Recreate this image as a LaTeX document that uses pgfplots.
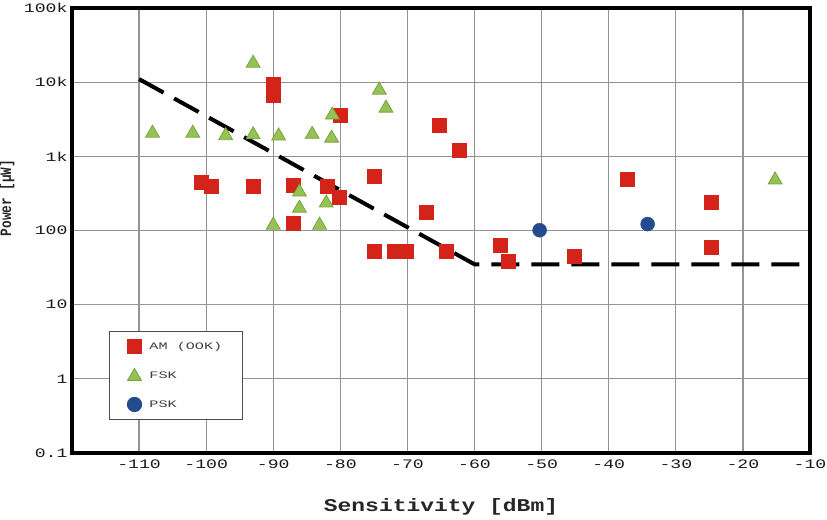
\documentclass[border=0pt]{standalone}
\usepackage{pgfplots}
\pgfplotsset{compat=1.18}
\usepackage{fontspec}
\setmainfont{Liberation Mono}
\newfontfamily\tickfont[FakeStretch=1.4]{Liberation Mono}
\newfontfamily\xlabfont[FakeStretch=1.28]{Liberation Mono}
\newfontfamily\ylabfont{Liberation Mono}
\newfontfamily\legfont[FakeStretch=1.52]{Liberation Mono}
\definecolor{amred}{RGB}{212,36,26}
\definecolor{fskgreen}{RGB}{148,194,84}
\definecolor{fskedge}{RGB}{118,164,58}
\definecolor{pskblue}{RGB}{36,76,140}
\begin{document}
\begin{tikzpicture}
\begin{axis}[
  scale only axis, width=738bp, height=445bp,
  xmin=-120, xmax=-10, ymode=log, ymin=0.1, ymax=100000,
  xtick={-110,-100,-90,-80,-70,-60,-50,-40,-30,-20,-10},
  xticklabels={-110,-100,-90,-80,-70,-60,-50,-40,-30,-20,-10},
  ytick={0.1,1,10,100,1000,10000,100000},
  yticklabels={0.1,1,10,100,1k,10k,100k},
  grid=major, major grid style={black!42, line width=1.3bp},
  minor tick num=0, tick style={draw=none},
  major tick length=0pt, minor tick length=0pt,
  axis line style={line width=3.5bp},
  tick label style={font=\tickfont\fontsize{13}{13}\selectfont, text=black!90},
  xticklabel style={yshift=-3bp},
  yticklabel style={xshift=-1bp},
  xlabel={\xlabfont\bfseries\fontsize{18}{18}\selectfont Sensitivity [dBm]},
  xlabel style={at={(axis description cs:0.5,0)}, anchor=base, yshift=-58bp, text=black!85},
  ylabel={\scalebox{1}[1.25]{\ylabfont\bfseries\fontsize{12.8}{13}\selectfont Power [μW]}},
  ylabel style={at={(axis description cs:-0.0881,0.573)}, anchor=center, text=black!85},
  legend style={at={(axis description cs:0.05,0.074)}, anchor=south west,
    font=\legfont\fontsize{10}{10}\selectfont, draw=black!70, line width=1.2bp,
    inner xsep=18bp, inner ysep=8bp, row sep=15bp, text=black!75},
  legend cell align=left,
]
\addplot[only marks, mark=square*, mark size=7bp, color=amred] coordinates {
  (-100.8,450) (-99.2,390) (-93,390) (-90,9400) (-90,6600) (-87,408) (-87,124)
  (-82,400) (-80.2,280) (-80,3600) (-75,540) (-75,53) (-72,53) (-70.2,53)
  (-67.2,177) (-65.3,2640) (-64.3,53) (-62.3,1210) (-56.2,63) (-55,38.5)
  (-45.1,45) (-37.2,490) (-24.8,243) (-24.8,60)
};
\addlegendentry{\hspace{6bp}AM (OOK)}
\addplot[only marks, mark=triangle*, mark size=8bp, mark options={fill=fskgreen, draw=fskedge, line width=0.8bp}] coordinates {
  (-108,2050) (-102,2050) (-97.1,1900) (-93,18000) (-93,1950) (-89.2,1880)
  (-90,118) (-84.2,1980) (-86.1,330) (-86.1,200) (-83.1,118) (-82.1,235)
  (-81.2,3600) (-81.3,1760) (-74.2,7800) (-73.2,4470) (-15.2,480)
};
\addlegendentry{\hspace{6bp}FSK}
\addplot[only marks, mark=*, mark size=7bp, color=pskblue] coordinates {
  (-50.3,101) (-34.2,122)
};
\addlegendentry{\hspace{6bp}PSK}
\addplot[forget plot, black, line width=4bp, dash pattern=on 28bp off 12bp] coordinates {
  (-110,11000) (-60,35) (-10,35)
};
\end{axis}
\pgfresetboundingbox
\path[use as bounding box] ([shift={(-72bp,-67bp)}]current axis.south west) rectangle ([shift={(17bp,8bp)}]current axis.north east);
\end{tikzpicture}
\end{document}
